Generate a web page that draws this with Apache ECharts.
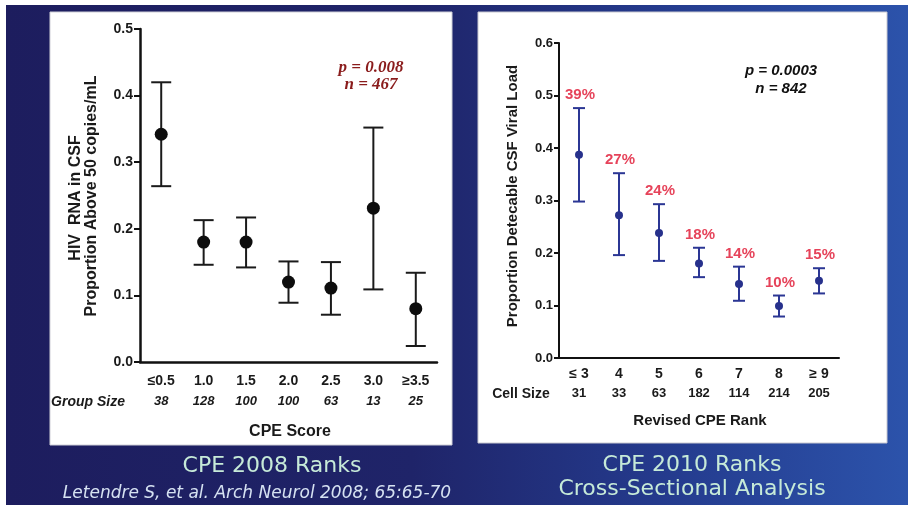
<!DOCTYPE html>
<html><head><meta charset="utf-8">
<script src="https://cdn.jsdelivr.net/npm/echarts@6/dist/echarts.min.js"></script>
<style>html,body{margin:0;padding:0;background:#fff}#c{width:908px;height:505px}</style>
</head><body><div id="c"></div>
<script>
// ---- Data: CPE 2008 ranks (left) ----
const cpe2008Categories = ['≤0.5', '1.0', '1.5', '2.0', '2.5', '3.0', '≥3.5'];
const cpe2008GroupSize = [38, 128, 100, 100, 63, 13, 25];
const cpe2008Value = [0.342, 0.180, 0.180, 0.120, 0.111, 0.231, 0.080];
const cpe2008Lower = [0.264, 0.146, 0.142, 0.089, 0.071, 0.109, 0.024];
const cpe2008Upper = [0.420, 0.213, 0.217, 0.151, 0.150, 0.352, 0.134];

// ---- Data: CPE 2010 ranks (right) ----
const cpe2010Categories = ['≤ 3', '4', '5', '6', '7', '8', '≥ 9'];
const cpe2010CellSize = [31, 33, 63, 182, 114, 214, 205];
const cpe2010Value = [0.387, 0.272, 0.238, 0.180, 0.141, 0.099, 0.147];
const cpe2010Lower = [0.298, 0.196, 0.185, 0.154, 0.109, 0.079, 0.123];
const cpe2010Upper = [0.476, 0.352, 0.293, 0.210, 0.174, 0.119, 0.171];
const cpe2010Percent = ['39%', '27%', '24%', '18%', '14%', '10%', '15%'];

const SANS = '"Liberation Sans", Arial, sans-serif';
const WIDE = '"DejaVu Sans", Verdana, sans-serif';
const SERIF = '"Liberation Serif", "Times New Roman", serif';

function errRender(color, capHalf, lw, labels, labelColor) {
  return function (params, api) {
    const i = api.value(0);
    const lo = api.coord([i, api.value(1)]);
    const hi = api.coord([i, api.value(2)]);
    const st = { stroke: color, lineWidth: lw };
    const children = [
      { type: 'line', shape: { x1: lo[0], y1: lo[1], x2: hi[0], y2: hi[1] }, style: st },
      { type: 'line', shape: { x1: lo[0] - capHalf, y1: lo[1], x2: lo[0] + capHalf, y2: lo[1] }, style: st },
      { type: 'line', shape: { x1: hi[0] - capHalf, y1: hi[1], x2: hi[0] + capHalf, y2: hi[1] }, style: st }
    ];
    if (labels) {
      children.push({
        type: 'text', x: hi[0] + 1, y: hi[1] - 13,
        style: { text: labels[i], fill: labelColor, font: 'bold 15px ' + SANS, align: 'center', verticalAlign: 'middle' }
      });
    }
    return { type: 'group', children };
  };
}

function txt(x, y, text, font, color, extra) {
  return Object.assign({
    type: 'text', x, y, z: 10,
    style: { text, font, fill: color, align: 'center', verticalAlign: 'middle' }
  }, extra || {});
}

const chart = echarts.init(document.getElementById('c'), null, { renderer: 'canvas' });

const option = {
  animation: false,
  backgroundColor: '#ffffff',
  grid: [
    { left: 140, top: 29, width: 297, height: 333 },
    { left: 559, top: 43, width: 280, height: 315 }
  ],
  xAxis: [
    {
      gridIndex: 0, type: 'category', data: cpe2008Categories, boundaryGap: true,
      axisLine: { lineStyle: { color: '#111', width: 2.5 } },
      axisTick: { alignWithLabel: true, length: 6, lineStyle: { color: '#111', width: 2 } },
      axisLabel: {
        margin: 9, interval: 0,
        formatter: (v, i) => '{c|' + v + '}\n{s|' + cpe2008GroupSize[i] + '}',
        rich: {
          c: { fontFamily: SANS, fontWeight: 'bold', fontSize: 14, color: '#1a1a1a', lineHeight: 20 },
          s: { fontFamily: SANS, fontWeight: 'bold', fontStyle: 'italic', fontSize: 13, color: '#1a1a1a', lineHeight: 20 }
        }
      }
    },
    {
      gridIndex: 1, type: 'category', data: cpe2010Categories, boundaryGap: true,
      axisLine: { lineStyle: { color: '#111', width: 2 } },
      axisTick: { alignWithLabel: true, length: 5, lineStyle: { color: '#111', width: 2 } },
      axisLabel: {
        margin: 7, interval: 0,
        formatter: (v, i) => '{c|' + v + '}\n{s|' + cpe2010CellSize[i] + '}',
        rich: {
          c: { fontFamily: SANS, fontWeight: 'bold', fontSize: 14, color: '#1a1a1a', lineHeight: 19 },
          s: { fontFamily: SANS, fontWeight: 'bold', fontSize: 13, color: '#1a1a1a', lineHeight: 19 }
        }
      }
    }
  ],
  yAxis: [
    {
      gridIndex: 0, type: 'value', min: 0, max: 0.5, interval: 0.1,
      splitLine: { show: false },
      axisLine: { show: true, lineStyle: { color: '#111', width: 2.5 } },
      axisTick: { show: true, length: 6, lineStyle: { color: '#111', width: 2 } },
      axisLabel: { margin: 7, formatter: v => v.toFixed(1), fontFamily: SANS, fontWeight: 'bold', fontSize: 14, color: '#1a1a1a' }
    },
    {
      gridIndex: 1, type: 'value', min: 0, max: 0.6, interval: 0.1,
      splitLine: { show: false },
      axisLine: { show: true, lineStyle: { color: '#111', width: 2 } },
      axisTick: { show: true, length: 5, lineStyle: { color: '#111', width: 2 } },
      axisLabel: { margin: 6, formatter: v => v.toFixed(1), fontFamily: SANS, fontWeight: 'bold', fontSize: 13, color: '#1a1a1a' }
    }
  ],
  graphic: [
    { type: 'rect', z: -10, shape: { x: 0, y: 0, width: 908, height: 505 }, style: { fill: '#ffffff' } },
    {
      type: 'rect', z: -9, shape: { x: 6, y: 5, width: 902, height: 500 },
      style: {
        fill: new echarts.graphic.LinearGradient(0, 0, 1, 0, [
          { offset: 0, color: '#1d1d5e' },
          { offset: 0.45, color: '#1f2469' },
          { offset: 0.72, color: '#243a8c' },
          { offset: 1, color: '#2c53ab' }
        ])
      }
    },
    { type: 'rect', z: -8, shape: { x: 50, y: 12, width: 402, height: 433 }, style: { fill: '#ffffff', stroke: '#d0d0d8', lineWidth: 1 } },
    { type: 'rect', z: -8, shape: { x: 478, y: 12, width: 409, height: 431 }, style: { fill: '#ffffff', stroke: '#c8c8d0', lineWidth: 1 } },

    txt(76, 198, 'HIV  RNA in CSF', 'bold 16px ' + SANS, '#1a1a1a', { rotation: Math.PI / 2 }),
    txt(92, 196, 'Proportion Above 50 copies/mL', 'bold 16px ' + SANS, '#1a1a1a', { rotation: Math.PI / 2 }),
    txt(88, 402, 'Group Size', 'bold italic 14px ' + SANS, '#1a1a1a'),
    txt(290, 432, 'CPE Score', 'bold 16px ' + SANS, '#1a1a1a'),
    txt(371, 68, 'p = 0.008', 'bold italic 17px ' + SERIF, '#8a1c1c'),
    txt(371, 85, 'n = 467', 'bold italic 17px ' + SERIF, '#8a1c1c'),

    txt(513, 196, 'Proportion Detecable CSF Viral Load', 'bold 15px ' + SANS, '#1a1a1a', { rotation: Math.PI / 2 }),
    txt(521, 394, 'Cell Size', 'bold 14px ' + SANS, '#1a1a1a'),
    txt(700, 421, 'Revised CPE Rank', 'bold 15px ' + SANS, '#1a1a1a'),
    txt(781, 71, 'p = 0.0003', 'bold italic 15px ' + SANS, '#111111'),
    txt(781, 89, 'n = 842', 'bold italic 15px ' + SANS, '#111111'),

    txt(272, 466, 'CPE 2008 Ranks', '22px ' + WIDE, '#c6ead8'),
    txt(257, 494, 'Letendre S, et al. Arch Neurol 2008; 65:65-70', 'italic 17px ' + WIDE, '#d6e2f2'),
    txt(692, 465, 'CPE 2010 Ranks', '22px ' + WIDE, '#c6ead8'),
    txt(692, 489, 'Cross-Sectional Analysis', '22px ' + WIDE, '#c6ead8')
  ],
  series: [
    {
      type: 'custom', xAxisIndex: 0, yAxisIndex: 0,
      renderItem: errRender('#1a1a1a', 10, 2, null, null),
      data: cpe2008Categories.map((c, i) => [i, cpe2008Lower[i], cpe2008Upper[i]]),
      z: 3
    },
    {
      type: 'scatter', xAxisIndex: 0, yAxisIndex: 0, symbol: 'circle', symbolSize: 13,
      itemStyle: { color: '#0d0d0d', opacity: 1 },
      data: cpe2008Categories.map((c, i) => [i, cpe2008Value[i]]),
      z: 4
    },
    {
      type: 'custom', xAxisIndex: 1, yAxisIndex: 1,
      renderItem: errRender('#2b3694', 6, 2, cpe2010Percent, '#e6435a'),
      data: cpe2010Categories.map((c, i) => [i, cpe2010Lower[i], cpe2010Upper[i]]),
      z: 3
    },
    {
      type: 'scatter', xAxisIndex: 1, yAxisIndex: 1, symbol: 'circle', symbolSize: 8,
      itemStyle: { color: '#27318c', opacity: 1 },
      data: cpe2010Categories.map((c, i) => [i, cpe2010Value[i]]),
      z: 4
    }
  ]
};
chart.setOption(option);
</script>
</body></html>
